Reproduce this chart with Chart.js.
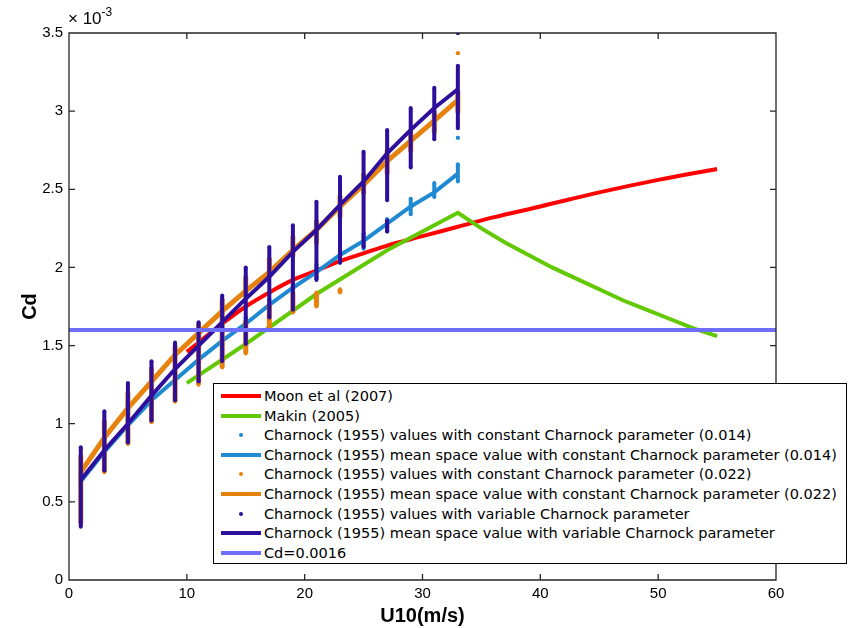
<!DOCTYPE html>
<html>
<head>
<meta charset="utf-8">
<script src="https://cdn.jsdelivr.net/npm/chart.js@4.4.1/dist/chart.umd.min.js"></script>
<style>
  body { margin: 0; background: #fff; }
  #wrap { position: relative; width: 849px; height: 628px; }
  #expo { position: absolute; left: 68px; top: 6px; font-family: "Liberation Sans", Arial, sans-serif; font-size: 17px; color: #000; }
  #expo sup { font-size: 12px; position: relative; top: -1px; }
  #legendBox {
    position: absolute; left: 213px; top: 383px; width: 634px; height: 181px;
    box-sizing: border-box; border: 1px solid #000; background: #fff;
    font: 14.5px "DejaVu Sans", sans-serif; color: #000;
  }
  .row { position: absolute; left: 0; height: 20px; display: flex; align-items: center; white-space: nowrap; }
  .swatch { position: relative; width: 40px; height: 20px; margin-left: 7px; margin-right: 3px; }
  .swatch .ln { position: absolute; left: 0; right: 0; top: 8px; height: 4px; }
  .swatch .dt { position: absolute; left: 18px; top: 8px; width: 4px; height: 4px; border-radius: 2px; }
</style>
</head>
<body>
<div id="wrap">
  <canvas id="myChart" width="849" height="628"></canvas>
  <span id="expo">&times; 10<sup>-3</sup></span>
  <div id="legendBox"></div>
</div>
<script>
// all Cd values are in units of 10^-3
const windCols = [1, 3, 5, 7, 9, 11, 13, 15, 17, 19, 21, 23, 25, 27, 29, 31, 33];
const meanC014 = [0.63, 0.82, 0.99, 1.15, 1.28, 1.41, 1.53, 1.64, 1.76, 1.87, 1.97, 2.08, 2.17, 2.28, 2.39, 2.48, 2.60];
const meanC022 = [0.69, 0.91, 1.10, 1.27, 1.44, 1.58, 1.72, 1.85, 1.97, 2.11, 2.24, 2.39, 2.53, 2.68, 2.81, 2.94, 3.07];
const meanVar  = [0.64, 0.83, 1.00, 1.18, 1.35, 1.50, 1.65, 1.80, 1.94, 2.10, 2.24, 2.40, 2.55, 2.73, 2.88, 3.02, 3.14];

const moonU  = [10, 11, 12, 13, 15, 17, 19, 21, 23, 25, 27, 30, 33, 36, 40, 45, 50, 55];
const moonCd = [1.46, 1.52, 1.58, 1.64, 1.75, 1.84, 1.92, 1.98, 2.04, 2.09, 2.14, 2.20, 2.26, 2.32, 2.39, 2.48, 2.56, 2.63];

const makinU  = [10, 15, 21, 27, 33, 35, 37, 39, 41, 43, 45, 47, 49, 51, 53, 55];
const makinCd = [1.26, 1.51, 1.83, 2.11, 2.35, 2.25, 2.16, 2.08, 2.00, 1.93, 1.86, 1.79, 1.73, 1.67, 1.61, 1.56];

const cdConstU = [0, 60];
const cdConst  = [1.6, 1.6];

// scattered values: [U10, lowest, highest] of each vertical run of dots
const dotsC014 = [[1, 0.60, 0.67], [3, 0.79, 0.85], [5, 0.96, 1.02], [7, 1.12, 1.18], [9, 1.25, 1.31],
  [11, 1.38, 1.44], [13, 1.50, 1.56], [15, 1.61, 1.68], [17, 1.72, 1.80], [19, 1.83, 1.91],
  [21, 1.93, 2.02], [23, 2.03, 2.13], [25, 2.12, 2.22], [27, 2.23, 2.31], [29, 2.34, 2.44],
  [31, 2.45, 2.54], [33, 2.55, 2.66], [33, 2.83, 2.83]];
const dotsC022 = [[1, 0.36, 0.80], [3, 0.69, 1.02], [5, 0.87, 1.20], [7, 1.01, 1.36], [9, 1.14, 1.50],
  [11, 1.25, 1.64], [13, 1.36, 1.80], [15, 1.81, 1.94], [15, 1.45, 1.66], [17, 1.94, 2.06], [17, 1.60, 1.76],
  [19, 2.07, 2.20], [19, 1.71, 1.84], [21, 2.15, 2.30], [21, 1.75, 1.84], [23, 2.32, 2.46], [23, 1.84, 1.86],
  [25, 2.47, 2.60], [27, 2.60, 2.75], [29, 2.74, 2.87], [31, 2.86, 3.00], [33, 2.99, 3.13], [33, 3.37, 3.37]];
const dotsVar = [[1, 0.34, 0.85], [3, 0.70, 1.08], [5, 0.88, 1.26], [7, 1.02, 1.40], [9, 1.15, 1.52],
  [11, 1.27, 1.65], [13, 1.40, 1.82], [15, 1.51, 2.00], [17, 1.68, 2.13], [19, 1.73, 2.27],
  [21, 1.92, 2.42], [23, 2.03, 2.58], [25, 2.13, 2.74], [27, 2.43, 2.88], [27, 2.23, 2.30],
  [29, 2.64, 3.02], [31, 2.82, 3.15], [33, 2.89, 3.29], [33, 3.50, 3.50]];

const xTicks = [0, 10, 20, 30, 40, 50, 60];
const yTicks = [0, 0.5, 1, 1.5, 2, 2.5, 3, 3.5];

function toPoints(xs, ys) {
  return xs.map((x, i) => ({ x: x, y: ys[i] }));
}

function runPoints(runs) {
  let pts = [];
  runs.forEach(r => {
    pts.push({ x: r[0], y: r[1] }, { x: r[0], y: r[2] }, { x: r[0], y: null });
  });
  return pts;
}

function lineSet(label, pts, color, width) {
  return { label: label, data: pts, borderColor: color, backgroundColor: color, borderWidth: width,
    showLine: true, pointRadius: 0, tension: 0, legendKind: 'line' };
}

function dotSet(label, pts, color, width) {
  return { label: label, data: pts, borderColor: color, backgroundColor: color, borderWidth: width,
    showLine: true, spanGaps: false, pointRadius: 2, pointBorderWidth: 0, legendKind: 'dot' };
}

const moonSet = lineSet('Moon et al (2007)', toPoints(moonU, moonCd), '#ff0000', 4);
moonSet.cubicInterpolationMode = 'monotone';

const datasets = [
  moonSet,
  lineSet('Makin (2005)', toPoints(makinU, makinCd), '#62c800', 4),
  dotSet('Charnock (1955) values with constant Charnock parameter (0.014)', runPoints(dotsC014), '#1f8ad2', 4),
  lineSet('Charnock (1955) mean space value with constant Charnock parameter (0.014)', toPoints(windCols, meanC014), '#1f8ad2', 4),
  dotSet('Charnock (1955) values with constant Charnock parameter (0.022)', runPoints(dotsC022), '#e6820e', 5),
  lineSet('Charnock (1955) mean space value with constant Charnock parameter (0.022)', toPoints(windCols, meanC022), '#e6820e', 5),
  dotSet('Charnock (1955) values with variable Charnock parameter', runPoints(dotsVar), '#2d0f9c', 4),
  lineSet('Charnock (1955) mean space value with variable Charnock parameter', toPoints(windCols, meanVar), '#2d0f9c', 4),
  lineSet('Cd=0.0016', toPoints(cdConstU, cdConst), '#6e6efa', 4)
];
// matlab draws later series on top
datasets.forEach((ds, i) => { ds.order = datasets.length - i; });

const axesBox = {
  id: 'axesBox',
  afterDraw(chart) {
    const ctx = chart.ctx;
    const a = chart.chartArea;
    const xs = chart.scales.x, ys = chart.scales.y;
    ctx.save();
    ctx.strokeStyle = '#262626';
    ctx.lineWidth = 1.3;
    ctx.beginPath();
    ctx.rect(a.left, a.top, a.right - a.left, a.bottom - a.top);
    xTicks.forEach(v => {
      const px = xs.getPixelForValue(v);
      ctx.moveTo(px, a.bottom); ctx.lineTo(px, a.bottom - 6);
      ctx.moveTo(px, a.top); ctx.lineTo(px, a.top + 6);
    });
    yTicks.forEach(v => {
      const py = ys.getPixelForValue(v);
      ctx.moveTo(a.left, py); ctx.lineTo(a.left + 6, py);
      ctx.moveTo(a.right, py); ctx.lineTo(a.right - 6, py);
    });
    ctx.stroke();
    ctx.restore();
  }
};

const tickFont = { family: '"Liberation Sans", Arial, sans-serif', size: 15 };
const titleFont = { family: '"Liberation Sans", Arial, sans-serif', size: 20, weight: 'bold' };

const myChart = new Chart(document.getElementById('myChart').getContext('2d'), {
  type: 'scatter',
  data: { datasets: datasets },
  options: {
    responsive: false,
    animation: false,
    layout: { padding: { top: 33, right: 73, left: 0, bottom: 0 } },
    plugins: { legend: { display: false }, tooltip: { enabled: false } },
    scales: {
      x: {
        type: 'linear', min: 0, max: 60,
        afterBuildTicks: s => { s.ticks = xTicks.map(v => ({ value: v })); },
        ticks: { color: '#000', font: tickFont, padding: 5, callback: v => String(v) },
        grid: { display: false, drawTicks: false },
        border: { display: false },
        title: { display: true, text: 'U10(m/s)', color: '#000', font: titleFont, padding: { top: 0, bottom: 0 } },
        afterFit: s => { s.height = 48; }
      },
      y: {
        type: 'linear', min: 0, max: 3.5,
        afterBuildTicks: s => { s.ticks = yTicks.map(v => ({ value: v })); },
        ticks: { color: '#000', font: tickFont, padding: 6, callback: v => String(v) },
        grid: { display: false, drawTicks: false },
        border: { display: false },
        title: { display: true, text: 'Cd', color: '#000', font: titleFont, padding: { top: 18, bottom: 0 } },
        afterFit: s => { s.width = 69; }
      }
    }
  },
  plugins: [axesBox]
});

// legend built from the chart's own datasets
const legendBox = document.getElementById('legendBox');
myChart.data.datasets.forEach((ds, i) => {
  const row = document.createElement('div');
  row.className = 'row';
  row.style.top = (2 + i * 19.6) + 'px';
  const sw = document.createElement('div');
  sw.className = 'swatch';
  const mark = document.createElement('div');
  mark.className = ds.legendKind === 'dot' ? 'dt' : 'ln';
  mark.style.background = ds.borderColor;
  sw.appendChild(mark);
  const txt = document.createElement('span');
  txt.textContent = ds.label;
  row.appendChild(sw);
  row.appendChild(txt);
  legendBox.appendChild(row);
});
</script>
</body>
</html>
